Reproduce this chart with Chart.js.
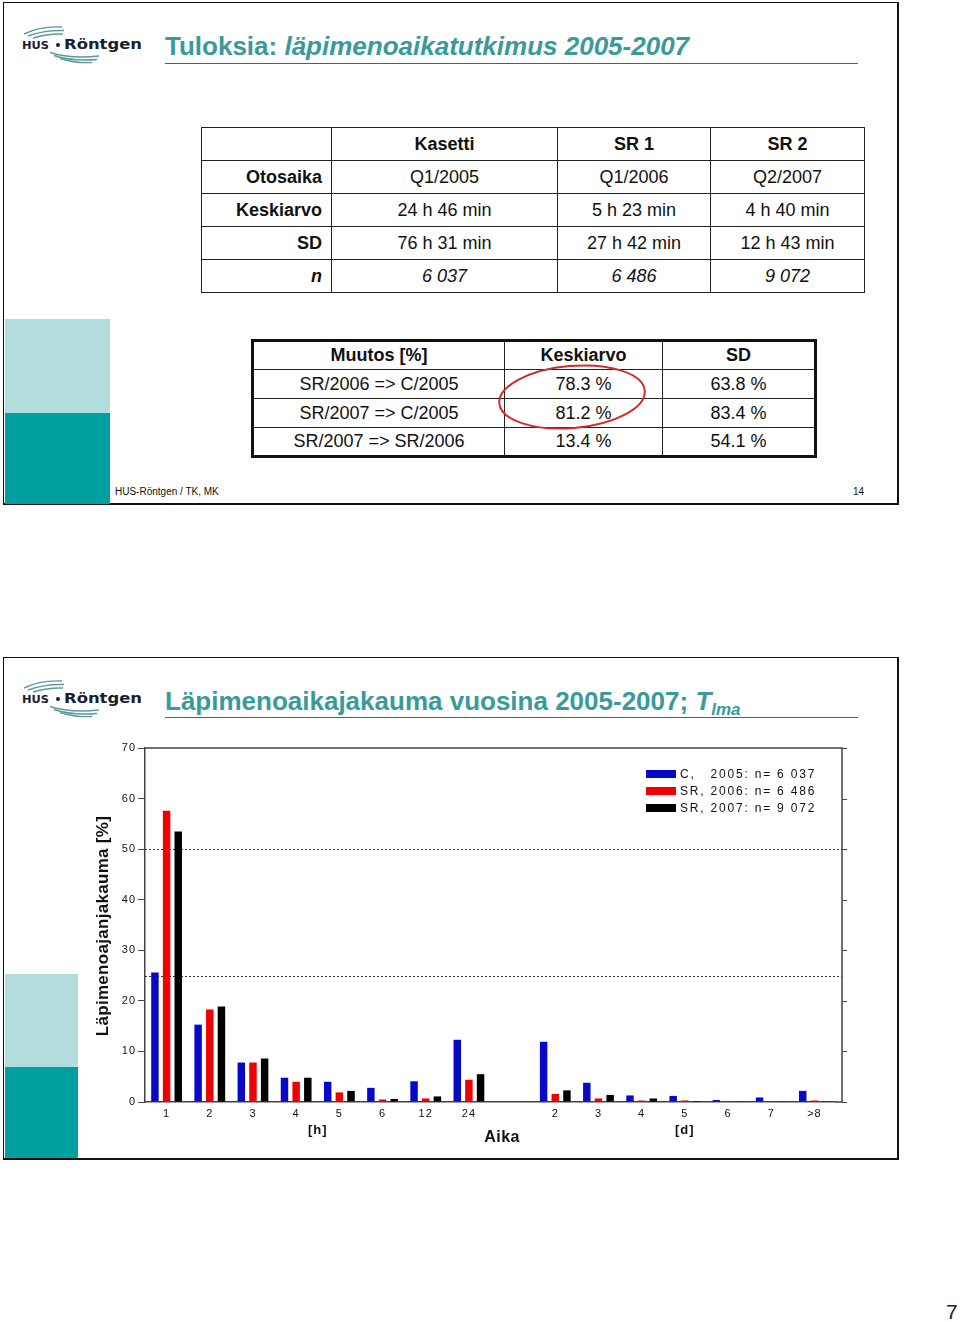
<!DOCTYPE html>
<html lang="fi">
<head>
<meta charset="utf-8">
<title>Läpimenoaikajakauma</title>
<script src="https://cdn.jsdelivr.net/npm/chart.js@4.4.1/dist/chart.umd.min.js"></script>
<style>
	body { margin: 0; background: #fff; }
	#page { position: relative; width: 960px; height: 1322px; overflow: hidden; font-family: "Liberation Sans", Arial, sans-serif; color: #111; }
	.slide { position: absolute; left: 3px; width: 896px; height: 503px; box-sizing: border-box; border: 1px solid #111; border-right-width: 2px; border-bottom-width: 2px; }
	.band { position: absolute; left: 5px; }
	.light { background: #b3dcdc; }
	.dark { background: #00a0a0; }
	.title { position: absolute; left: 165px; font-size: 26px; line-height: 26px; font-weight: bold; color: #3a9a9a; white-space: nowrap; }
	.title i sub { font-size: 17px; vertical-align: -5px; line-height: 0; }
	.rule { position: absolute; left: 165px; width: 693px; border-top: 1.5px solid #3b6b6b; }
	table { position: absolute; border-collapse: collapse; table-layout: fixed; font-size: 18px; color: #111; }
	td, th { padding: 0 9px; text-align: center; white-space: nowrap; }
	#t1 td, #t1 th { border: 1.5px solid #222; }
	#t1 tr { height: 33px; }
	#t1 .r { text-align: right; }
	#t1 .it { font-style: italic; font-weight: normal; }
	#t2 { border: 3px solid #111; }
	#t2 td, #t2 th { border: 1.5px solid #222; }
	#t2 tr { height: 29px; }
	.foot { position: absolute; font-size: 10px; color: #111; }
	#overlay { position: absolute; left: 0; top: 0; }
	#jakauma { position: absolute; left: 80px; top: 735px; }
	#pageno { position: absolute; left: 946px; top: 1300px; font-size: 21px; color: #222; }
</style>
</head>
<body>
<div id="page">

	<!-- slide 14 -->
	<div class="slide" style="top:2px;"></div>
	<div class="band light" style="top:319px;width:105px;height:94px;"></div>
	<div class="band dark" style="top:413px;width:105px;height:91px;"></div>
	<div class="title" style="top:33px;">Tuloksia: <i>läpimenoaikatutkimus 2005-2007</i></div>
	<div class="rule" style="top:63px;"></div>

	<table id="t1" style="left:201px;top:127px;width:663px;">
		<colgroup><col style="width:130px"><col style="width:226px"><col style="width:153px"><col style="width:154px"></colgroup>
		<tr><td></td><th>Kasetti</th><th>SR 1</th><th>SR 2</th></tr>
		<tr><th class="r">Otosaika</th><td>Q1/2005</td><td>Q1/2006</td><td>Q2/2007</td></tr>
		<tr><th class="r">Keskiarvo</th><td>24 h 46 min</td><td>5 h 23 min</td><td>4 h 40 min</td></tr>
		<tr><th class="r">SD</th><td>76 h 31 min</td><td>27 h 42 min</td><td>12 h 43 min</td></tr>
		<tr><th class="r"><i>n</i></th><td class="it">6 037</td><td class="it">6 486</td><td class="it">9 072</td></tr>
	</table>

	<table id="t2" style="left:251px;top:339px;width:563px;">
		<colgroup><col style="width:252px"><col style="width:158px"><col style="width:153px"></colgroup>
		<tr><th>Muutos [%]</th><th>Keskiarvo</th><th>SD</th></tr>
		<tr><td>SR/2006 =&gt; C/2005</td><td>78.3 %</td><td>63.8 %</td></tr>
		<tr><td>SR/2007 =&gt; C/2005</td><td>81.2 %</td><td>83.4 %</td></tr>
		<tr><td>SR/2007 =&gt; SR/2006</td><td>13.4 %</td><td>54.1 %</td></tr>
	</table>

	<div class="foot" style="left:115px;top:486px;">HUS-Röntgen / TK, MK</div>
	<div class="foot" style="left:853px;top:486px;">14</div>

	<!-- slide 15 -->
	<div class="slide" style="top:657px;"></div>
	<div class="band light" style="top:974px;width:73px;height:93px;"></div>
	<div class="band dark" style="top:1067px;width:73px;height:91px;"></div>
	<div class="title" style="top:688px;">Läpimenoaikajakauma vuosina 2005-2007; <i>T<sub>lma</sub></i></div>
	<div class="rule" style="top:717px;"></div>

	<svg id="overlay" width="960" height="1322">
		<defs>
			<g id="logo">
				<g fill="none" stroke="#5a9c9e" stroke-width="1.4">
					<path d="M 24 34 Q 40 26 62 27"/>
					<path d="M 28 36 Q 44 30 64 30.5"/>
					<path d="M 33 38 Q 48 33.5 63 34"/>
					<path d="M 50 52.5 Q 70 59 99 56"/>
					<path d="M 54 55.5 Q 72 61.5 97 59.5"/>
					<path d="M 60 58.5 Q 76 63.5 92 62.5"/>
				</g>
				<text x="22" y="48.5" font-family="DejaVu Sans, sans-serif" font-weight="bold" font-size="10" fill="#1c1c2c" textLength="27" lengthAdjust="spacingAndGlyphs">HUS</text>
				<circle cx="58" cy="45" r="2" fill="#1c1c2c"/>
				<text x="64" y="48.5" font-family="DejaVu Sans, sans-serif" font-weight="bold" font-size="13.5" fill="#1c1c2c" textLength="78" lengthAdjust="spacingAndGlyphs">Röntgen</text>
			</g>
		</defs>
		<use href="#logo"/>
		<use href="#logo" transform="translate(0,654)"/>
		<ellipse cx="572" cy="397" rx="73" ry="31" transform="rotate(-5 572 397)" fill="none" stroke="#d02c2c" stroke-width="2"/>
	</svg>

	<canvas id="jakauma" width="790" height="425"></canvas>

	<div id="pageno">7</div>
</div>

<script>
	var fontFamily = '"Liberation Sans", Arial, sans-serif';

	// Aika-luokat: tunnit 1..24, tyhjä väli, päivät 2..>8
	var categories = ['1', '2', '3', '4', '5', '6', '12', '24', '', '2', '3', '4', '5', '6', '7', '>8'];
	var c2005  = [25.6, 15.3, 7.8, 4.8, 4.0, 2.8, 4.1, 12.3, null, 11.9, 3.8, 1.3, 1.2, 0.4, 0.9, 2.2];
	var sr2006 = [57.6, 18.3, 7.8, 4.0, 1.9, 0.5, 0.7, 4.4, null, 1.6, 0.7, 0.3, 0.3, 0.1, 0.0, 0.3];
	var sr2007 = [53.5, 18.9, 8.6, 4.8, 2.2, 0.6, 1.1, 5.5, null, 2.3, 1.4, 0.7, 0.2, 0.05, 0.05, 0.05];

	var seriesCodes = ['C,', 'SR,', 'SR,'];
	var seriesInfo = ['2005: n= 6 037', '2006: n= 6 486', '2007: n= 9 072'];
	var seriesColors = ['#0808c8', '#f00000', '#000000'];

	var yMin = 0, yMax = 70, yStep = 10;
	var dottedLines = [25, 50];
	var unitGroups = [['[h]', 0, 7], ['[d]', 9, 15]];
	var xTitle = 'Aika';
	var yTitle = 'Läpimenoajanjakauma [%]';

	// the frame sits a little right of the last category
	var frameExtra = 6;

	// wide letter spacing like the original export
	var spacingPlugin = {
		id: 'spacing',
		beforeDraw: function(chart) {
			chart.ctx.letterSpacing = '1px';
		}
	};

	var decorPlugin = {
		id: 'decor',
		beforeDatasetsDraw: function(chart) {
			var ctx = chart.ctx, area = chart.chartArea, y = chart.scales.y;
			ctx.save();
			ctx.strokeStyle = '#333';
			ctx.lineWidth = 1;
			ctx.setLineDash([2, 2]);
			dottedLines.forEach(function(v) {
				var py = Math.round(y.getPixelForValue(v)) + 0.5;
				ctx.beginPath();
				ctx.moveTo(area.left, py);
				ctx.lineTo(area.right + frameExtra, py);
				ctx.stroke();
			});
			ctx.restore();
		},
		afterDraw: function(chart) {
			var ctx = chart.ctx, area = chart.chartArea, x = chart.scales.x, y = chart.scales.y;
			var rx = area.right + frameExtra;
			ctx.save();

			// frame: top, right, bottom extension, right ticks
			ctx.strokeStyle = '#444';
			ctx.lineWidth = 1.5;
			ctx.beginPath();
			ctx.moveTo(area.left, area.top);
			ctx.lineTo(rx, area.top);
			ctx.lineTo(rx, area.bottom);
			ctx.lineTo(area.right, area.bottom);
			ctx.stroke();
			ctx.lineWidth = 1;
			y.ticks.forEach(function(t) {
				var py = Math.round(y.getPixelForValue(t.value)) + 0.5;
				ctx.beginPath();
				ctx.moveTo(rx, py);
				ctx.lineTo(rx + 5, py);
				ctx.stroke();
			});

			// [h] / [d]
			ctx.fillStyle = '#111';
			ctx.textAlign = 'center';
			ctx.textBaseline = 'middle';
			ctx.letterSpacing = '1px';
			ctx.font = 'bold 13px ' + fontFamily;
			unitGroups.forEach(function(g) {
				var cx = (x.getPixelForValue(g[1]) + x.getPixelForValue(g[2])) / 2;
				ctx.fillText(g[0], cx, area.bottom + 28);
			});
			ctx.letterSpacing = '0.5px';
			ctx.font = 'bold 16px ' + fontFamily;
			ctx.fillText(xTitle, x.getPixelForValue(8) - 10, area.bottom + 36);

			// y title
			ctx.save();
			ctx.translate(area.left - 42, (area.top + area.bottom) / 2 + 1);
			ctx.rotate(-Math.PI / 2);
			ctx.letterSpacing = '0.3px';
			ctx.font = 'bold 17px ' + fontFamily;
			ctx.fillText(yTitle, 0, 0);
			ctx.restore();

			// legend
			ctx.font = '12px ' + fontFamily;
			ctx.letterSpacing = '1.8px';
			ctx.textAlign = 'left';
			var bx = rx - 196, by = area.top + 22;
			var codeW = ctx.measureText('SR, ').width;
			for (var i = 0; i < seriesCodes.length; i++) {
				var yy = by + i * 17;
				ctx.fillStyle = seriesColors[i];
				ctx.fillRect(bx, yy, 30, 8);
				ctx.fillStyle = '#111';
				ctx.fillText(seriesCodes[i], bx + 34, yy + 4.5);
				ctx.fillText(seriesInfo[i], bx + 34 + codeW, yy + 4.5);
			}
			ctx.restore();
		}
	};

	var jakauma = new Chart(document.getElementById('jakauma'), {
		type: 'bar',
		data: {
			labels: categories,
			datasets: [
				{ label: seriesCodes[0] + ' ' + seriesInfo[0], data: c2005, backgroundColor: seriesColors[0] },
				{ label: seriesCodes[1] + ' ' + seriesInfo[1], data: sr2006, backgroundColor: seriesColors[1] },
				{ label: seriesCodes[2] + ' ' + seriesInfo[2], data: sr2007, backgroundColor: seriesColors[2] }
			]
		},
		options: {
			responsive: false,
			animation: false,
			devicePixelRatio: 1,
			layout: { padding: { top: 13, left: 0, right: 0, bottom: 0 } },
			datasets: { bar: { categoryPercentage: 0.81, barPercentage: 0.64 } },
			plugins: { legend: { display: false }, tooltip: { enabled: false } },
			scales: {
				x: {
					grid: { display: false, drawTicks: false },
					border: { display: true, color: '#444', width: 1.5 },
					ticks: { color: '#111', font: { size: 11, family: fontFamily }, padding: 5, autoSkip: false, maxRotation: 0 },
					afterFit: function(axis) { axis.height = 58; }
				},
				y: {
					min: yMin,
					max: yMax,
					ticks: { stepSize: yStep, color: '#111', font: { size: 11, family: fontFamily }, padding: 2 },
					grid: { drawOnChartArea: false, drawTicks: true, tickLength: 7, color: '#444' },
					border: { display: true, color: '#444', width: 1.5 },
					afterFit: function(axis) { axis.width = 65; }
				}
			}
		},
		plugins: [spacingPlugin, decorPlugin, {
			id: 'rightGap',
			beforeLayout: function(chart) { chart.options.layout.padding.right = 34; }
		}]
	});
</script>
</body>
</html>
